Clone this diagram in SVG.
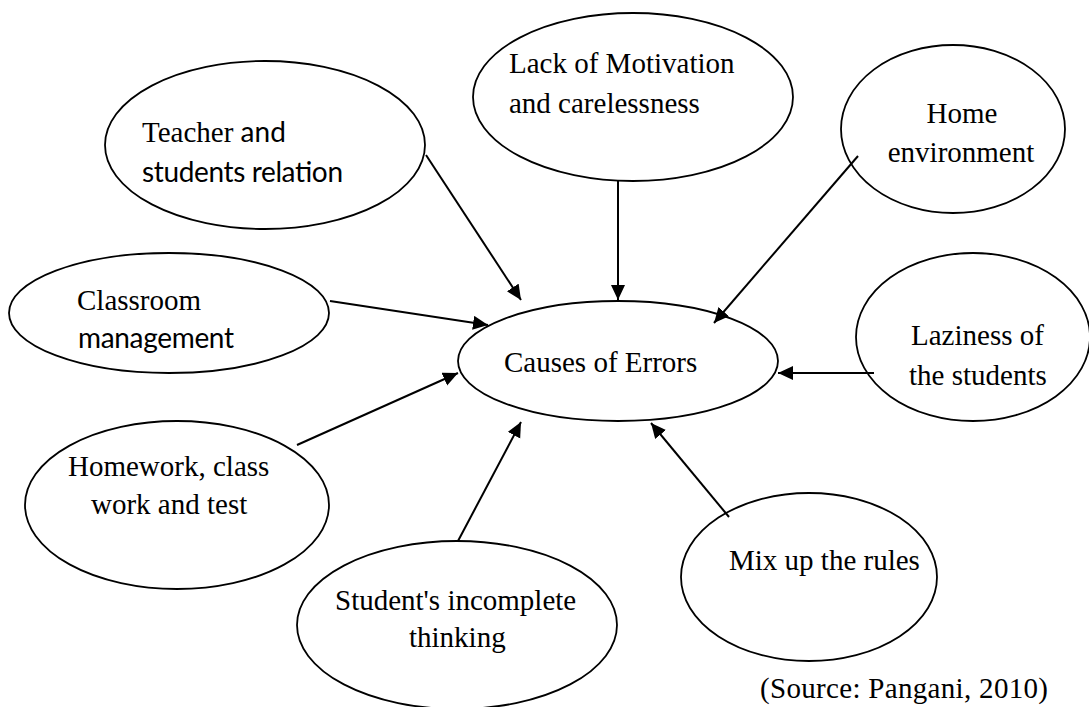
<svg xmlns="http://www.w3.org/2000/svg" width="1089" height="707" viewBox="0 0 1089 707">
<style>
.n ellipse{fill:#fff;stroke:#000;stroke-width:1.8}
.t{font-family:"Liberation Serif","Times New Roman",serif;font-size:29px;fill:#000}
.s{font-family:Lato,"Liberation Sans",sans-serif;font-size:28px}
.m{text-anchor:middle}
.c line{stroke:#000;stroke-width:2;marker-end:url(#ah)}
</style>
<defs>
<marker id="ah" markerUnits="userSpaceOnUse" markerWidth="16" markerHeight="15" refX="15" refY="7" orient="auto">
<path d="M0,0 L15,7 L0,14 z" fill="#000"/>
</marker>
</defs>
<rect width="1089" height="707" fill="#fff"/>
<g id="n-teacher" class="n">
<ellipse cx="265" cy="145" rx="160" ry="84"/>
<text class="t" x="142" y="142">Teacher <tspan class="s">and</tspan></text>
<text class="t s" x="142" y="182" textLength="201">students relation</text>
</g>
<g id="n-lack" class="n">
<ellipse cx="633" cy="97" rx="160" ry="84"/>
<text class="t" x="509" y="73">Lack of Motivation</text>
<text class="t" x="509" y="113">and carelessness</text>
</g>
<g id="n-home" class="n">
<ellipse cx="953" cy="129" rx="112" ry="84"/>
<text class="t m" x="962" y="123">Home</text>
<text class="t m" x="961" y="162">environment</text>
</g>
<g id="n-classroom" class="n">
<ellipse cx="169" cy="313" rx="160" ry="60"/>
<text class="t" x="77" y="310">Classroom</text>
<text class="t s" x="78" y="348" textLength="156">management</text>
</g>
<g id="n-causes" class="n">
<ellipse cx="618" cy="361" rx="160" ry="60"/>
<text class="t" x="504" y="372">Causes of Errors</text>
</g>
<g id="n-laziness" class="n">
<ellipse cx="973" cy="337" rx="117" ry="84"/>
<text class="t" x="911" y="345">Laziness of</text>
<text class="t" x="909" y="385">the students</text>
</g>
<g id="n-homework" class="n">
<ellipse cx="177" cy="505" rx="152" ry="84"/>
<text class="t" x="68" y="476">Homework, class</text>
<text class="t" x="91" y="514">work and test</text>
</g>
<g id="n-student" class="n">
<ellipse cx="457" cy="625" rx="160" ry="84"/>
<text class="t" x="335" y="610">Student's incomplete</text>
<text class="t" x="409" y="647">thinking</text>
</g>
<g id="n-mix" class="n">
<ellipse cx="809" cy="577" rx="128" ry="84"/>
<text class="t" x="729" y="570">Mix up the rules</text>
</g>
<g id="connectors" class="c">
<line x1="426" y1="155" x2="521" y2="300"/>
<line x1="618" y1="181" x2="618" y2="300"/>
<line x1="858" y1="156" x2="714" y2="323"/>
<line x1="330" y1="301" x2="488" y2="325"/>
<line x1="874" y1="373" x2="778" y2="373"/>
<line x1="297" y1="445" x2="458" y2="373"/>
<line x1="458" y1="541" x2="521" y2="422"/>
<line x1="729" y1="517" x2="651" y2="423"/>
</g>
<text class="t" x="760" y="698" textLength="288">(Source: Pangani, 2010)</text>
</svg>
